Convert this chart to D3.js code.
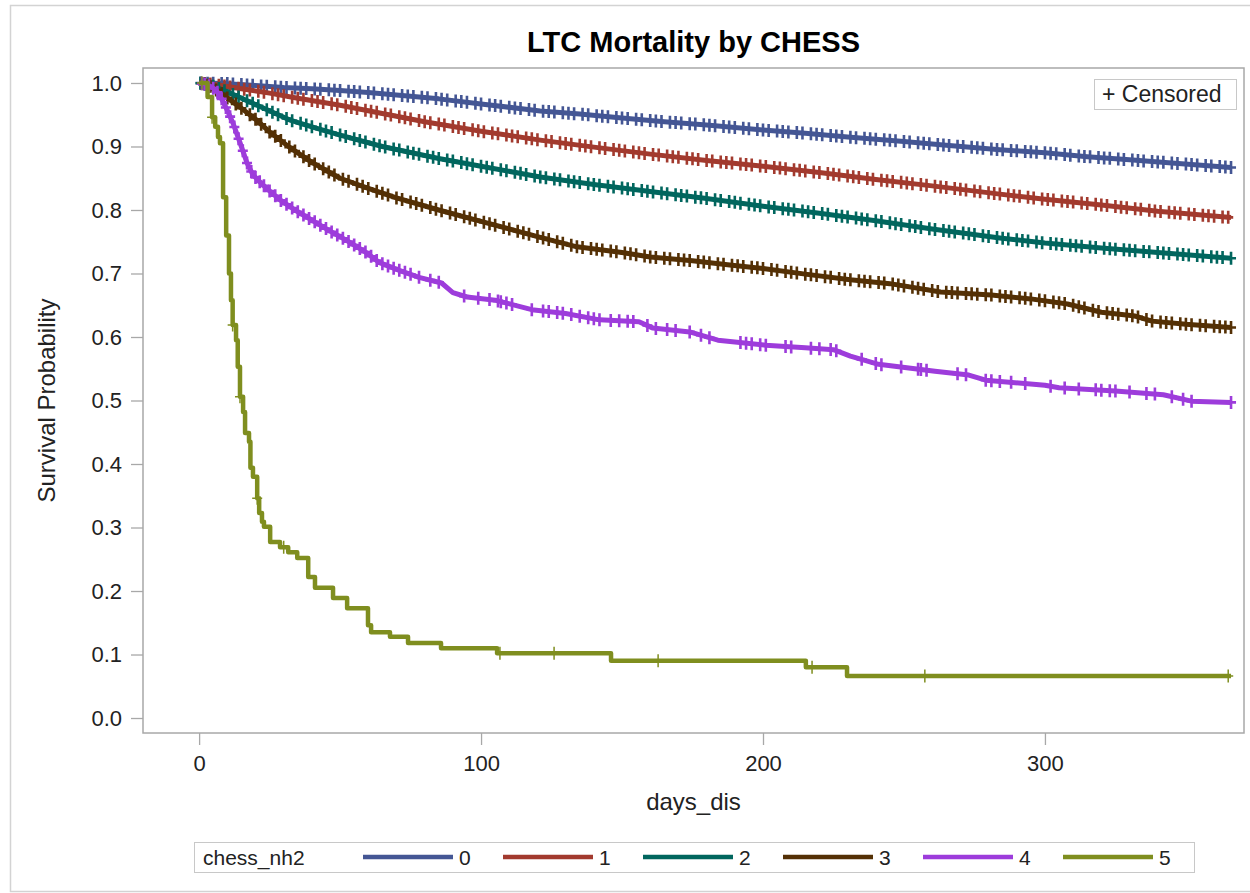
<!DOCTYPE html>
<html>
<head>
<meta charset="utf-8">
<script src="https://cdn.jsdelivr.net/npm/d3@7"></script>
<style>
  body { margin: 0; background: #fff; }
  text { font-family: "Liberation Sans", Arial, sans-serif; }
</style>
</head>
<body>
<div id="chart"></div>
<script>
const groups = ["0", "1", "2", "3", "4", "5"];
const colors = ["#445694", "#A23A2E", "#01665E", "#543005", "#9D3CDB", "#7F8E1F"];
const xTicks = [0, 100, 200, 300];
const yTicks = [0, 0.1, 0.2, 0.3, 0.4, 0.5, 0.6, 0.7, 0.8, 0.9, 1.0];

// survival [day, survival]
const surv0 = [[0,1],[10,0.999],[20,0.996],[30,0.993],[40,0.991],[50,0.988],[60,0.985],[70,0.981],[85,0.975],[100,0.967],[121,0.956],[135,0.951],[150,0.945],[165,0.939],[180,0.934],[200,0.926],[215,0.921],[230,0.915],[250,0.908],[265,0.902],[284,0.895],[300,0.890],[315,0.884],[330,0.879],[345,0.874],[366,0.867]];
const surv1 = [[0,1],[5,0.998],[15,0.991],[25,0.984],[35,0.976],[50,0.965],[65,0.952],[80,0.939],[100,0.924],[121,0.910],[140,0.899],[160,0.888],[180,0.878],[200,0.869],[220,0.859],[240,0.848],[260,0.838],[284,0.825],[300,0.817],[320,0.808],[340,0.798],[366,0.788]];
const surv2 = [[0,1],[5,0.995],[10,0.986],[20,0.966],[32,0.942],[40,0.931],[50,0.918],[65,0.900],[85,0.881],[100,0.869],[121,0.852],[140,0.840],[160,0.829],[180,0.818],[200,0.806],[220,0.795],[240,0.783],[260,0.770],[284,0.756],[300,0.748],[320,0.740],[340,0.733],[366,0.724]];
const surv3 = [[0,1],[4,0.995],[8,0.983],[14.5,0.962],[20,0.943],[25,0.923],[32,0.899],[40,0.875],[50,0.850],[60,0.834],[70,0.819],[85,0.800],[100,0.782],[121,0.757],[134,0.742],[150,0.733],[160,0.726],[175,0.720],[189,0.713],[200,0.708],[215,0.699],[231,0.690],[245,0.684],[263,0.671],[281,0.666],[295,0.660],[308,0.652],[320,0.639],[332,0.633],[338,0.625],[350,0.620],[366,0.615]];
const surv4 = [[0,1],[3,0.997],[6,0.989],[8,0.975],[10,0.957],[12,0.937],[14.5,0.906],[17,0.874],[19,0.856],[22,0.842],[25,0.830],[28.7,0.816],[34,0.800],[40,0.784],[46,0.768],[52,0.753],[59.6,0.732],[64,0.717],[71,0.705],[78,0.694],[86,0.685],[90,0.670],[95,0.663],[105,0.658],[118,0.643],[130,0.637],[142,0.627],[156,0.624],[161,0.614],[174,0.608],[184,0.595],[201,0.587],[215,0.583],[225,0.580],[231,0.570],[241,0.557],[261,0.546],[273,0.540],[279,0.532],[300,0.524],[305,0.520],[325,0.515],[342,0.509],[352,0.499],[366,0.497]];
const surv5 = [[0,1],[3.0,0.978],[4.6,0.946],[5.7,0.931],[6.7,0.915],[7.4,0.905],[8.5,0.82],[9.6,0.76],[10.6,0.70],[11.3,0.658],[11.9,0.619],[13.1,0.595],[13.7,0.553],[14.5,0.506],[15.6,0.482],[16.3,0.449],[17.7,0.435],[18.2,0.394],[19.1,0.380],[20.6,0.346],[21.3,0.323],[22.3,0.309],[23,0.301],[25.2,0.277],[28.7,0.269],[31.6,0.261],[34.8,0.252],[38.7,0.222],[41.1,0.205],[47.5,0.189],[52.5,0.173],[59.9,0.146],[61.0,0.135],[67.7,0.128],[74.1,0.118],[85.8,0.110],[105.7,0.102],[146.1,0.090],[215.2,0.080],[229.8,0.066],[366,0.066]];

// censored days
const cens0 = [0.5,3,5,8,10,12,15,17,19,22,24,27,29,31,34,36,38,41,43,46,48,50,53,55,57,60,62,65,67,69,72,74,76,79,81,84,86,88,91,93,95,98,100,103,105,107,110,112,114,117,119,122,124,126,129,131,133,136,138,141,143,145,148,150,152,155,157,160,162,164,167,169,171,174,176,179,181,183,186,188,190,193,195,198,200,202,205,207,209,212,214,217,219,221,224,226,228,231,233,236,238,240,243,245,247,250,252,255,257,259,262,264,266,269,271,274,276,278,281,283,285,288,290,293,295,297,300,302,304,307,309,312,314,316,319,321,323,326,328,331,333,335,338,340,342,345,347,350,352,354,357,359,362,364,366];
const cens1 = [1,2,4,7,9,11,14,16,18,21,23,26,28,30,33,35,37,40,42,44,47,49,52,54,56,59,61,63,66,68,71,73,75,78,80,82,85,87,90,92,94,97,99,101,104,106,109,111,113,116,118,120,123,125,128,130,132,135,137,139,142,144,147,149,151,154,156,158,161,163,166,168,170,173,175,177,180,182,185,187,189,192,194,196,199,201,204,206,208,211,213,215,218,220,223,225,227,230,232,234,237,239,242,244,246,249,251,253,256,258,261,263,265,268,270,272,275,277,280,282,284,287,289,291,294,296,299,301,303,306,308,310,313,315,318,320,322,325,327,329,332,334,337,339,341,344,346,348,351,353,356,358,360,363,365];
const cens2 = [0.5,2,5,7,9,12,14,17,19,21,24,26,28,31,33,36,38,40,43,45,47,50,52,55,57,59,62,64,66,69,71,74,76,78,81,83,85,88,90,93,95,97,100,102,104,107,109,112,114,116,119,121,123,126,128,131,133,135,138,140,142,145,147,150,152,154,157,159,161,164,166,169,171,173,176,178,180,183,185,188,190,192,195,197,199,202,204,207,209,211,214,216,218,221,223,226,228,230,233,235,237,240,242,245,247,249,252,254,256,259,261,264,266,268,271,273,275,278,280,283,285,287,290,292,294,297,299,302,304,306,309,311,313,316,318,321,323,325,328,330,332,335,337,340,342,344,347,349,351,354,356,359,361,363,366];
const cens3 = [1,3,4,6,8,10,13,15,18,20,22,25,27,29,32,34,37,39,41,44,46,48,51,53,56,58,60,63,65,67,70,72,75,77,79,82,84,86,89,91,94,96,98,101,103,105,108,110,113,115,117,120,122,124,127,129,132,134,136,139,141,143,146,148,151,153,155,158,160,162,165,167,170,172,174,177,179,181,184,186,189,191,193,196,198,200,203,205,208,210,212,215,217,219,222,224,227,229,231,234,236,238,241,243,246,248,250,253,255,257,260,262,265,267,269,272,274,276,279,281,284,286,288,291,293,295,298,300,303,305,307,310,312,314,317,319,322,324,326,329,331,333,336,338,341,343,345,348,350,352,355,357,360,362,364,366];
const cens4 = [1,2,3.5,5,6.5,8,9.5,11,12.5,14,15.5,17,18.5,20,21.5,23,25,27,29,31,33,35,37,39,41,43,45,47,49,51,53,55,57,59,61,63,65,67,69,71,73,75,78,82,85,94,99,103,106,107,109,111,118,122,124,127,129,132,135,138,140,142,146,149,152,154,159,162,166,169,174,178,181,192,194,196,199,201,208,210,217,220,224,226,235,240,242,249,255,256,258,269,272,279,281,284,288,293,302,307,312,318,320,323,325,330,336,339,345,349,352,366];
const cens5 = [1,4.6,11.9,14.5,20.6,30,106.7,125.9,162.8,217.4,257.4,365];

const survData = [surv0, surv1, surv2, surv3, surv4, surv5];
const censData = [cens0, cens1, cens2, cens3, cens4, cens5];

function survAt(steps, t, stepped) {
    const i = d3.bisector(d => d[0]).right(steps, t) - 1;
    const a = steps[Math.max(i, 0)];
    const b = steps[Math.min(i + 1, steps.length - 1)];
    if (stepped || a === b) return a[1];
    return a[1] + (b[1] - a[1]) * (t - a[0]) / (b[0] - a[0]);
}

function drawChart() {
    const width = 1250;
    const height = 893;
    const frame = { left: 143, right: 1244, top: 68, bottom: 733 };

    const svg = d3.select("#chart")
        .append("svg")
        .attr("width", width)
        .attr("height", height);

    // outer border
    svg.append("rect")
        .attr("x", 10.5)
        .attr("y", 5.5)
        .attr("width", 1260)
        .attr("height", 886)
        .attr("fill", "none")
        .attr("stroke", "#d3d3d3")
        .attr("stroke-width", 1.5);

    svg.append("text")
        .attr("x", (frame.left + frame.right) / 2)
        .attr("y", 52)
        .attr("text-anchor", "middle")
        .style("font-size", "29px")
        .style("font-weight", "bold")
        .style("fill", "#000")
        .text("LTC Mortality by CHESS");

    const x = d3.scaleLinear()
        .domain([-19.9, 370.6])
        .range([frame.left, frame.right]);

    const y = d3.scaleLinear()
        .domain([-0.0236, 1.0236])
        .range([frame.bottom, frame.top]);

    // x axis
    const xAxis = svg.append("g")
        .attr("transform", `translate(0,${frame.bottom})`)
        .call(d3.axisBottom(x).tickValues(xTicks).tickSize(12).tickPadding(10).tickFormat(d3.format("d")));
    xAxis.select(".domain").remove();
    xAxis.selectAll("line").attr("stroke", "#a8a8a8").attr("stroke-width", 1.3);
    xAxis.selectAll("text")
        .attr("fill", "#222")
        .style("font-size", "22px")
        .style("font-family", "'Liberation Sans', Arial, sans-serif");

    // y axis
    const yAxis = svg.append("g")
        .attr("transform", `translate(${frame.left},0)`)
        .call(d3.axisLeft(y).tickValues(yTicks).tickSize(12).tickPadding(9).tickFormat(d3.format(".1f")));
    yAxis.select(".domain").remove();
    yAxis.selectAll("line").attr("stroke", "#a8a8a8").attr("stroke-width", 1.3);
    yAxis.selectAll("text")
        .attr("fill", "#222")
        .style("font-size", "22px")
        .style("font-family", "'Liberation Sans', Arial, sans-serif");

    svg.append("text")
        .attr("transform", `translate(55,${(frame.top + frame.bottom) / 2}) rotate(-90)`)
        .attr("text-anchor", "middle")
        .style("font-size", "24px")
        .style("fill", "#222")
        .text("Survival Probability");

    svg.append("text")
        .attr("x", (frame.left + frame.right) / 2)
        .attr("y", 810)
        .attr("text-anchor", "middle")
        .style("font-size", "24px")
        .style("fill", "#222")
        .text("days_dis");

    // plot frame
    svg.append("rect")
        .attr("x", frame.left)
        .attr("y", frame.top)
        .attr("width", frame.right - frame.left)
        .attr("height", frame.bottom - frame.top)
        .attr("fill", "none")
        .attr("stroke", "#a8a8a8")
        .attr("stroke-width", 1.5);

    survData.forEach((steps, g) => {
        const stepped = g === 5;
        const line = d3.line()
            .x(d => x(d[0]))
            .y(d => y(d[1]))
            .curve(stepped ? d3.curveStepAfter : d3.curveLinear);

        svg.append("path")
            .datum(steps)
            .attr("fill", "none")
            .attr("stroke", colors[g])
            .attr("stroke-width", stepped ? 4.5 : 5)
            .attr("stroke-linejoin", "round")
            .attr("d", line);

        svg.append("g")
            .selectAll("path")
            .data(censData[g])
            .join("path")
            .attr("transform", d => `translate(${x(d)},${y(survAt(steps, d, stepped))})`)
            .attr("d", "M-5,0H5M0,-6.5V6.5")
            .attr("stroke", colors[g])
            .attr("stroke-width", stepped ? 1.5 : 2.6)
            .attr("fill", "none");
    });

    // censored legend
    const cLegend = svg.append("g");
    cLegend.append("rect")
        .attr("x", 1094.5)
        .attr("y", 79.5)
        .attr("width", 142)
        .attr("height", 30)
        .attr("fill", "#fff")
        .attr("stroke", "#c8c8c8");
    cLegend.append("text")
        .attr("x", 1102)
        .attr("y", 102)
        .style("font-size", "23px")
        .style("fill", "#222")
        .text("+ Censored");

    // group legend
    const legend = svg.append("g");
    legend.append("rect")
        .attr("x", 194.5)
        .attr("y", 842.5)
        .attr("width", 1000)
        .attr("height", 30)
        .attr("fill", "#fff")
        .attr("stroke", "#c8c8c8");
    legend.append("text")
        .attr("x", 203)
        .attr("y", 865)
        .style("font-size", "21px")
        .style("fill", "#222")
        .text("chess_nh2");

    groups.forEach((label, i) => {
        const x0 = 363 + i * 140;
        legend.append("line")
            .attr("x1", x0)
            .attr("x2", x0 + 90)
            .attr("y1", 857)
            .attr("y2", 857)
            .attr("stroke", colors[i])
            .attr("stroke-width", 4.5);
        legend.append("text")
            .attr("x", x0 + 96)
            .attr("y", 865)
            .style("font-size", "21px")
            .style("fill", "#222")
            .text(label);
    });
}

drawChart();
</script>
</body>
</html>
